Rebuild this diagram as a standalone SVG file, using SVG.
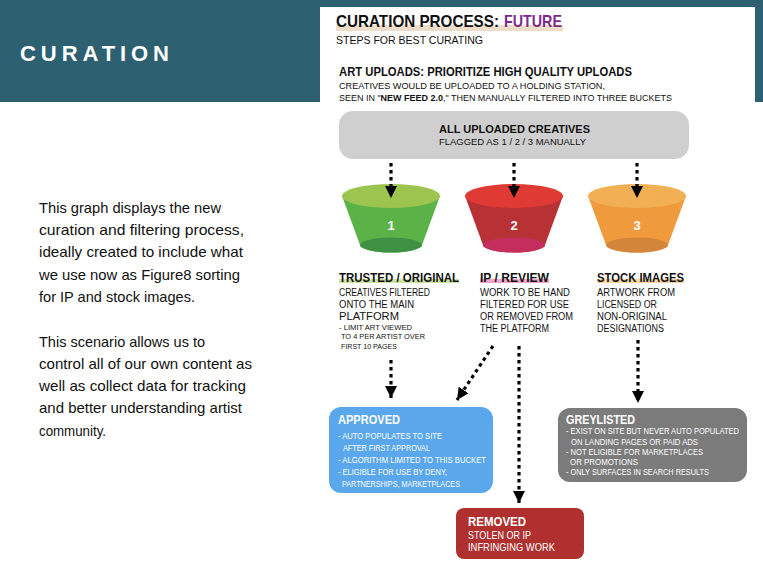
<svg xmlns="http://www.w3.org/2000/svg" width="763" height="572" viewBox="0 0 763 572">
<style>
text{font-family:"Liberation Sans",Arial,sans-serif;fill:#111}
.b{font-weight:bold}
.w{fill:#fff}
.h{font-size:12.5px;font-weight:bold}
.body{font-size:10px}
.sm{font-size:7.8px}
.bx{font-size:9.3px;fill:#fff}
.gx{font-size:8.4px;fill:#fff}
.para{font-family:"Liberation Sans",Arial,sans-serif;font-size:14.2px}
.conn{fill:none;stroke:#000;stroke-width:3.2;stroke-dasharray:3.5 3.5}
.num{font-size:13px;font-weight:bold;fill:#fff;text-anchor:middle}
</style>
<defs>
<marker id="ah" markerUnits="userSpaceOnUse" markerWidth="14" markerHeight="12" viewBox="0 0 14 12" refX="12" refY="6" orient="auto">
<path d="M0,0 L12,6 L0,12 Z" fill="#000"/>
</marker>
</defs>
<rect x="0" y="0" width="763" height="572" fill="#fff"/>
<rect x="0" y="0" width="763" height="102" fill="#2d6070"/>
<rect x="320" y="7" width="435" height="95" fill="#fff"/>
<text x="20" y="61" class="b w" style="font-size:22px" textLength="149" lengthAdjust="spacing">CURATION</text>

<g id="intro">
<text class="para" x="39" y="213" textLength="182" lengthAdjust="spacingAndGlyphs">This graph displays the new</text>
<text class="para" x="39" y="235" textLength="205" lengthAdjust="spacingAndGlyphs">curation and filtering process,</text>
<text class="para" x="39" y="257" textLength="204" lengthAdjust="spacingAndGlyphs">ideally created to include what</text>
<text class="para" x="39" y="280" textLength="201" lengthAdjust="spacingAndGlyphs">we use now as Figure8 sorting</text>
<text class="para" x="39" y="302" textLength="156" lengthAdjust="spacingAndGlyphs">for IP and stock images.</text>
<text class="para" x="39" y="347" textLength="166" lengthAdjust="spacingAndGlyphs">This scenario allows us to</text>
<text class="para" x="39" y="369" textLength="213" lengthAdjust="spacingAndGlyphs">control all of our own content as</text>
<text class="para" x="39" y="391" textLength="207" lengthAdjust="spacingAndGlyphs">well as collect data for tracking</text>
<text class="para" x="39" y="413" textLength="203" lengthAdjust="spacingAndGlyphs">and better understanding artist</text>
<text class="para" x="39" y="436" textLength="67" lengthAdjust="spacingAndGlyphs">community.</text>
</g>

<g id="header">
<rect x="336" y="25" width="227" height="6" fill="#ecdcc8"/>
<text x="336" y="27" class="b" style="font-size:16.2px" textLength="163" lengthAdjust="spacingAndGlyphs">CURATION PROCESS:</text>
<text x="504" y="27" class="b" style="font-size:16.2px;fill:#7b2a8c" textLength="58" lengthAdjust="spacingAndGlyphs">FUTURE</text>
<text x="336" y="44" style="font-size:11.3px" textLength="147" lengthAdjust="spacingAndGlyphs">STEPS FOR BEST CURATING</text>
<text x="339" y="76" class="b" style="font-size:12.2px" textLength="293" lengthAdjust="spacingAndGlyphs">ART UPLOADS: PRIORITIZE HIGH QUALITY UPLOADS</text>
<text x="339" y="89" style="font-size:9.8px" textLength="266" lengthAdjust="spacingAndGlyphs">CREATIVES WOULD BE UPLOADED TO A HOLDING STATION,</text>
<text x="339" y="101" style="font-size:9.8px" textLength="333" lengthAdjust="spacingAndGlyphs">SEEN IN "<tspan class="b">NEW FEED 2.0</tspan>," THEN MANUALLY FILTERED INTO THREE BUCKETS</text>
</g>

<g id="all-uploaded">
<rect x="339" y="111" width="350" height="48" rx="14" fill="#cfcfcf"/>
<text x="439" y="133" class="b" style="font-size:11.8px" textLength="151" lengthAdjust="spacingAndGlyphs">ALL UPLOADED CREATIVES</text>
<text x="439" y="145" style="font-size:9.8px" textLength="147" lengthAdjust="spacingAndGlyphs">FLAGGED AS 1 / 2 / 3 MANUALLY</text>
</g>

<g id="bucket1">
<path d="M342,196 L360,245 A31,7.5 0 0 0 422,245 L440,196 Z" fill="#5bb347"/>
<ellipse cx="391" cy="245" rx="31" ry="7.5" fill="#3e9142"/>
<ellipse cx="391" cy="196" rx="49" ry="12" fill="#9cc54f"/>
<text x="391" y="230" class="num">1</text>
</g>
<g id="bucket2">
<path d="M465,196 L483,245 A31,7.5 0 0 0 545,245 L563,196 Z" fill="#b83235"/>
<ellipse cx="514" cy="245" rx="31" ry="7.5" fill="#c52d5c"/>
<ellipse cx="514" cy="196" rx="49" ry="12" fill="#df3a33"/>
<text x="514" y="230" class="num">2</text>
</g>
<g id="bucket3">
<path d="M588,196 L606,245 A31,7.5 0 0 0 668,245 L686,196 Z" fill="#ee9a3d"/>
<ellipse cx="637" cy="245" rx="31" ry="7.5" fill="#d3863a"/>
<ellipse cx="637" cy="196" rx="49" ry="12" fill="#f2b055"/>
<text x="637" y="230" class="num">3</text>
</g>

<g id="trusted">
<rect x="339" y="279" width="120" height="4" fill="#c9e2a2"/>
<text x="339" y="282" class="h" textLength="120" lengthAdjust="spacingAndGlyphs">TRUSTED / ORIGINAL</text>
<text x="339" y="296" class="body" textLength="91" lengthAdjust="spacingAndGlyphs">CREATIVES FILTERED</text>
<text x="339" y="308" class="body" textLength="75" lengthAdjust="spacingAndGlyphs">ONTO THE MAIN</text>
<text x="339" y="320" class="body" textLength="60" lengthAdjust="spacingAndGlyphs">PLATFORM</text>
<text x="339" y="330" class="sm" textLength="73" lengthAdjust="spacingAndGlyphs">- LIMIT ART VIEWED</text>
<text x="341" y="339" class="sm" textLength="84" lengthAdjust="spacingAndGlyphs">TO 4 PER ARTIST OVER</text>
<text x="341" y="349" class="sm" textLength="56" lengthAdjust="spacingAndGlyphs">FIRST 10 PAGES</text>
</g>
<g id="ip-review">
<rect x="480" y="279" width="69" height="4" fill="#f2a5c8"/>
<text x="480" y="282" class="h" textLength="69" lengthAdjust="spacingAndGlyphs">IP / REVIEW</text>
<text x="480" y="296" class="body" textLength="90" lengthAdjust="spacingAndGlyphs">WORK TO BE HAND</text>
<text x="480" y="308" class="body" textLength="89" lengthAdjust="spacingAndGlyphs">FILTERED FOR USE</text>
<text x="480" y="320" class="body" textLength="93" lengthAdjust="spacingAndGlyphs">OR REMOVED FROM</text>
<text x="480" y="332" class="body" textLength="69" lengthAdjust="spacingAndGlyphs">THE PLATFORM</text>
</g>
<g id="stock">
<rect x="597" y="279" width="87" height="4" fill="#f5d3a3"/>
<text x="597" y="282" class="h" textLength="87" lengthAdjust="spacingAndGlyphs">STOCK IMAGES</text>
<text x="597" y="296" class="body" textLength="78" lengthAdjust="spacingAndGlyphs">ARTWORK FROM</text>
<text x="597" y="308" class="body" textLength="60" lengthAdjust="spacingAndGlyphs">LICENSED OR</text>
<text x="597" y="320" class="body" textLength="70" lengthAdjust="spacingAndGlyphs">NON-ORIGINAL</text>
<text x="597" y="332" class="body" textLength="67" lengthAdjust="spacingAndGlyphs">DESIGNATIONS</text>
</g>

<g id="approved">
<rect x="329" y="407" width="164" height="86" rx="12" fill="#5aa8eb"/>
<text x="338" y="424" class="b w" style="font-size:12px" textLength="62" lengthAdjust="spacingAndGlyphs">APPROVED</text>
<text x="338" y="439" class="bx" textLength="104" lengthAdjust="spacingAndGlyphs">- AUTO POPULATES TO SITE</text>
<text x="343" y="451" class="bx" textLength="87" lengthAdjust="spacingAndGlyphs">AFTER FIRST APPROVAL</text>
<text x="338" y="463" class="bx" textLength="148" lengthAdjust="spacingAndGlyphs">- ALGORITHM LIMITED TO THIS BUCKET</text>
<text x="338" y="475" class="bx" textLength="109" lengthAdjust="spacingAndGlyphs">- ELIGIBLE FOR USE BY DENY,</text>
<text x="342" y="487" class="bx" textLength="118" lengthAdjust="spacingAndGlyphs">PARTNERSHIPS, MARKETPLACES</text>
</g>
<g id="greylisted">
<rect x="558" y="408" width="189" height="74" rx="12" fill="#7b7b7b"/>
<text x="566" y="424" class="b w" style="font-size:12px" textLength="69" lengthAdjust="spacingAndGlyphs">GREYLISTED</text>
<text x="566" y="434" class="gx" textLength="173" lengthAdjust="spacingAndGlyphs">- EXIST ON SITE BUT NEVER AUTO POPULATED</text>
<text x="571" y="445" class="gx" textLength="127" lengthAdjust="spacingAndGlyphs">ON LANDING PAGES OR PAID ADS</text>
<text x="566" y="455" class="gx" textLength="137" lengthAdjust="spacingAndGlyphs">- NOT ELIGIBLE FOR MARKETPLACES</text>
<text x="570" y="465" class="gx" textLength="68" lengthAdjust="spacingAndGlyphs">OR PROMOTIONS</text>
<text x="566" y="475" class="gx" textLength="143" lengthAdjust="spacingAndGlyphs">- ONLY SURFACES IN SEARCH RESULTS</text>
</g>
<g id="removed">
<rect x="456" y="508" width="128" height="51" rx="8" fill="#b03030"/>
<text x="468" y="526" class="b w" style="font-size:12px" textLength="58" lengthAdjust="spacingAndGlyphs">REMOVED</text>
<text x="468" y="539" class="w" style="font-size:10.3px" textLength="63" lengthAdjust="spacingAndGlyphs">STOLEN OR IP</text>
<text x="468" y="551" class="w" style="font-size:10.3px" textLength="87" lengthAdjust="spacingAndGlyphs">INFRINGING WORK</text>
</g>

<g id="connectors">
<path class="conn" d="M391,163 L391,198" marker-end="url(#ah)"/>
<path class="conn" d="M514,163 L514,198" marker-end="url(#ah)"/>
<path class="conn" d="M637,163 L637,198" marker-end="url(#ah)"/>
<path class="conn" d="M391,360 L391,398" marker-end="url(#ah)"/>
<path class="conn" d="M493,346 L457,400" marker-end="url(#ah)"/>
<path class="conn" d="M519,346 L519,503" marker-end="url(#ah)"/>
<path class="conn" d="M638,340 L638,403" marker-end="url(#ah)"/>
</g>
</svg>
